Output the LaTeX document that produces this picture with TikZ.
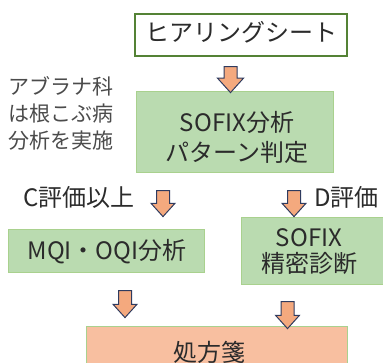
\documentclass[tikz,border=0pt]{standalone}
\usepackage{fontspec}
\setmainfont{Noto Sans CJK JP}
\usetikzlibrary{shapes.arrows}
\definecolor{topgreen}{HTML}{548235}
\definecolor{boxgreen}{HTML}{BADBB0}
\definecolor{edgegreen}{HTML}{A9D18E}
\definecolor{salmon}{HTML}{F8BFA0}
\definecolor{arrowfill}{HTML}{F4A97E}
\definecolor{arrowedge}{HTML}{2F3B5F}
\definecolor{textgray}{HTML}{2B2B2B}
\tikzstyle{bigtext} = [text=textgray,inner sep=0,align=center,font=\fontsize{24}{30}\selectfont]
\tikzstyle{sidetext} = [text=textgray!85,inner sep=0,align=left,font=\fontsize{21}{27}\selectfont]
\tikzstyle{topbox} = [draw=topgreen,line width=2.5pt,fill=white,inner sep=0]
\tikzstyle{greenbox} = [draw=edgegreen,line width=1pt,fill=boxgreen,inner sep=0]
\tikzstyle{redbox} = [draw=edgegreen,line width=1pt,fill=salmon,inner sep=0]
\tikzstyle{down} = [single arrow,shape border rotate=270,draw=arrowedge,line width=1pt,
	fill=arrowfill,inner sep=6pt,minimum height=26pt,
	single arrow head extend=5.5pt,single arrow tip angle=84]

\begin{document}
\begin{tikzpicture}[x=1pt,y=-1pt]
		\useasboundingbox (0,0) rectangle (383,363);

		% boxes
		\node[topbox,minimum width=212pt,minimum height=42pt] (sheet) at (241,35) {};
		\node[greenbox,minimum width=197pt,minimum height=81pt] (pattern) at (234.5,132.5) {};
		\node[greenbox,minimum width=196pt,minimum height=43pt] (mqi) at (106,251.5) {};
		\node[greenbox,minimum width=145pt,minimum height=67pt] (detail) at (313.5,251.5) {};
		\node[redbox,minimum width=261pt,minimum height=50pt] (recipe) at (216.5,352) {};

		% texts
		\node[bigtext] (sheettext) at (241,32) {ヒアリングシート};
		\node[bigtext] (patterntext) at (237,137) {SOFIX分析\\パターン判定};
		\node[bigtext] (mqitext) at (107,252) {MQI・OQI分析};
		\node[bigtext,font=\fontsize{24}{26}\selectfont] (detailtext) at (309,252) {SOFIX\\精密診断};
		\node[bigtext] (recipetext) at (209,352) {処方箋};
		\node[sidetext,anchor=west] (side) at (8,113) {アブラナ科\\は根こぶ病\\分析を実施};
		\node[bigtext,anchor=west] (cgrade) at (23,197) {C評価以上};
		\node[bigtext,anchor=west] (dgrade) at (314,197) {D評価};

		% arrows
		\node[down,single arrow head extend=6.5pt] (a1) at (230.5,76) {};
		\node[down] (a2) at (163,200) {};
		\node[down] (a3) at (294,200) {};
		\node[down,minimum height=27pt] (a4) at (125,300.5) {};
		\node[down,minimum height=27pt] (a5) at (287.5,311.5) {};

\end{tikzpicture}
\end{document}
